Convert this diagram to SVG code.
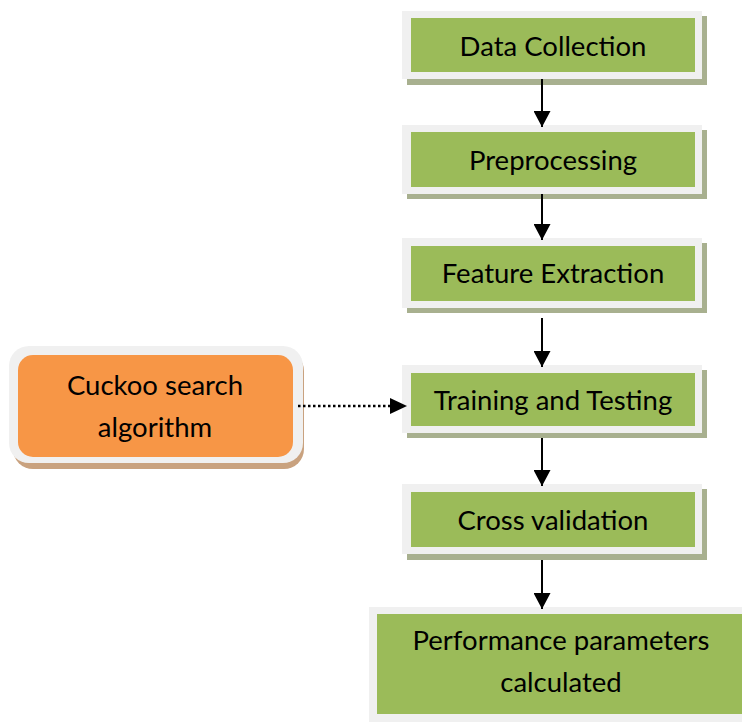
<svg xmlns="http://www.w3.org/2000/svg" width="742" height="722" viewBox="0 0 742 722">
<defs>
<style>
.frame{fill:#f0f0f0}
.shadow{fill:#a8b08f}
.green{fill:#9bbb59}
.oshadow{fill:#c9a27f}
.orange{fill:#f79646}
.lbl{font-family:Lato,"Liberation Sans",sans-serif;font-size:27.5px;fill:#000;text-anchor:middle}
.conn{stroke:#000;stroke-width:2;fill:none}
.dot{stroke:#000;stroke-width:2.5;fill:none;stroke-dasharray:2.5 2.5}
</style>
<marker id="ah" markerUnits="userSpaceOnUse" markerWidth="18" markerHeight="17" refX="16" refY="8.5" orient="auto">
<polygon points="0,0 16,8.5 0,17" fill="#000"/>
</marker>
</defs>
<rect width="742" height="722" fill="#fff"/>
<g id="n1">
<rect class="shadow" x="407" y="16" width="300" height="69"/>
<rect class="frame" x="402" y="11" width="300" height="68"/>
<rect class="green" x="411" y="18" width="284" height="54"/>
<text class="lbl" x="553" y="56">Data Collection</text>
</g>
<g id="n2">
<rect class="shadow" x="407" y="130" width="300" height="69"/>
<rect class="frame" x="402" y="125" width="300" height="69"/>
<rect class="green" x="411" y="132" width="284" height="55"/>
<text class="lbl" x="553" y="170">Preprocessing</text>
</g>
<g id="n3">
<rect class="shadow" x="407" y="243" width="300" height="70"/>
<rect class="frame" x="402" y="238" width="300" height="70"/>
<rect class="green" x="411" y="246" width="284" height="55"/>
<text class="lbl" x="553" y="283">Feature Extraction</text>
</g>
<g id="n4">
<rect class="shadow" x="407" y="370" width="300" height="68"/>
<rect class="frame" x="402" y="365" width="300" height="68"/>
<rect class="green" x="411" y="373" width="284" height="53"/>
<text class="lbl" x="553" y="410">Training and Testing</text>
</g>
<g id="n5">
<rect class="shadow" x="407" y="489" width="300" height="71"/>
<rect class="frame" x="402" y="484" width="300" height="70"/>
<rect class="green" x="411" y="492" width="284" height="55"/>
<text class="lbl" x="553" y="530">Cross validation</text>
</g>
<g id="n6">
<rect class="frame" x="369" y="607" width="390" height="115"/>
<rect class="green" x="377" y="614" width="370" height="100"/>
<text class="lbl" x="561" y="650">Performance parameters</text>
<text class="lbl" x="561" y="692">calculated</text>
</g>
<g id="n7">
<rect class="oshadow" x="13" y="351" width="291" height="118" rx="20"/>
<rect class="frame" x="9" y="346" width="294" height="117" rx="20"/>
<rect class="orange" x="18" y="355" width="275" height="102" rx="15"/>
<text class="lbl" x="155" y="395">Cuckoo search</text>
<text class="lbl" x="155" y="437">algorithm</text>
</g>
<g id="connectors">
<line class="conn" x1="542" y1="79" x2="542" y2="127" marker-end="url(#ah)"/>
<line class="conn" x1="542" y1="194" x2="542" y2="240" marker-end="url(#ah)"/>
<line class="conn" x1="542" y1="318" x2="542" y2="367" marker-end="url(#ah)"/>
<line class="conn" x1="542" y1="438" x2="542" y2="486" marker-end="url(#ah)"/>
<line class="conn" x1="542" y1="560" x2="542" y2="609" marker-end="url(#ah)"/>
<line class="dot" x1="298" y1="406" x2="392" y2="406"/>
<polygon points="390,398 407,406 390,414" fill="#000"/>
</g>
</svg>
